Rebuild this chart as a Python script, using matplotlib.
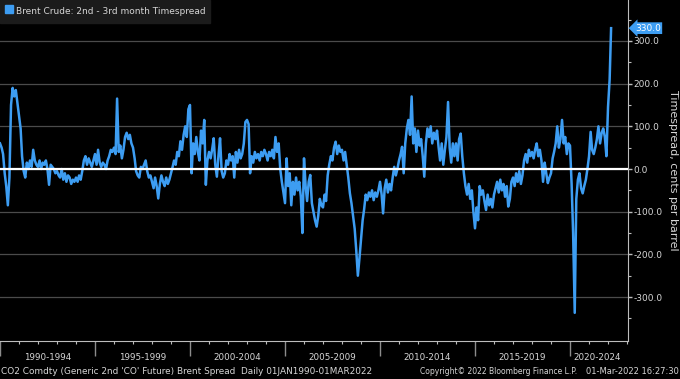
import pandas as pd
import matplotlib
matplotlib.use("Agg")
import matplotlib.pyplot as plt
import matplotlib.dates as mdates
import matplotlib.transforms as mtransforms
from matplotlib.lines import Line2D
from matplotlib.ticker import FuncFormatter, FixedLocator

# ---- monthly readings, cents per barrel (one row = Jan..Dec) ----
spread_1990_1994 = [
    60, 50, 35, -10, -40, -85, -20, 150, 190, 170, 185, 155,
    125, 95, 30, -5, -20, 15, 0, 20, 5, 45, 20, 10,
    5, 20, 0, 15, 10, 20, 0, -37, 10, 5, 0, -10,
    -5, -15, -20, 0, -25, -10, -30, -15, -20, -35, -25, -30,
    -20, -30, -15, -25, -5, 20, 30, 10, 25, 15, 5, 20,
]
spread_1995_1999 = [
    35, 10, 45, 15, 5, 15, 10, 0, 20, 30, 45, 40,
    50, 35, 165, 40, 55, 25, 45, 75, 85, 70, 80, 60,
    50, 25, -5, -15, -20, 5, 0, 10, 20, -5, -20, -15,
    -30, -45, -20, -40, -69, -35, -15, -30, -40, -20, -35, -25,
    -10, 5, 20, 10, 40, 30, 65, 45, 80, 100, 75, 140,
]
spread_2000_2004 = [
    150, -10, 60, 35, 75, 40, 20, 90, 60, 115, -37, 20,
    40, 25, 45, 72, 10, -18, 30, 72, -5, -20, -10, 20,
    10, 35, 20, 30, -20, 40, 15, 45, 25, 35, 60, 110,
    115, 105, -10, 30, 15, 40, 25, 35, 20, 40, 30, 45,
    35, 20, 40, 30, 45, 25, 75, 40, 60, 0, -30, -55,
]
spread_2005_2009 = [
    -80, 25, -40, -10, -85, -30, -60, -20, -50, -30, -65, -150,
    25, -40, -75, -30, -14, -80, -100, -120, -135, -110, -70, -85,
    -90, -60, -75, -15, 10, 30, 20, 50, 64, 35, 55, 40,
    45, 20, 40, 10, -20, -57, -80, -110, -140, -190, -250, -210,
    -165, -120, -95, -60, -73, -55, -65, -50, -73, -55, -65, -50,
]
spread_2010_2014 = [
    -30, -60, -104, -45, -25, -55, -35, -50, -20, 5, -15, 0,
    20, 35, 52, -10, 60, 95, 115, 80, 170, 60, 95, 40,
    90, 55, 70, 30, -18, 60, 95, 75, 100, 60, 85, 70,
    90, 50, 20, 60, 10, 45, 75, 157, 50, 15, 60, 30,
    60, 20, 70, 83, 30, -10, -40, -60, -35, -70, -50, -100,
]
spread_2015_2019 = [
    -139, -90, -120, -40, -60, -50, -75, -96, -60, -85, -70, -90,
    -60, -45, -30, -55, -25, -50, -35, -65, -40, -88, -70, -30,
    -20, -40, -10, -30, -5, -35, -15, 20, 35, 15, 45, 30,
    40, 25, 45, 60, 30, 45, 20, -30, 15, -10, -33, -20,
    -10, 25, 40, 60, 100, 50, 70, 115, 60, 75, 35, 60,
]
spread_2020_2022 = [
    55, -35, -150, -337, -70, -25, -10, -45, -57, -40, -25, 0,
    30, 87, 45, 35, 50, 70, 100, 60, 85, 95, 75, 30,
    145, 210, 330,
]

period_labels = ["1990-1994", "1995-1999", "2000-2004", "2005-2009",
                 "2010-2014", "2015-2019", "2020-2024"]
period_starts = [1990, 1995, 2000, 2005, 2010, 2015, 2020]
y_ticks = [-300, -200, -100, 0, 100, 200, 300]

spread = (spread_1990_1994 + spread_1995_1999 + spread_2000_2004 +
          spread_2005_2009 + spread_2010_2014 + spread_2015_2019 +
          spread_2020_2022)
dates = pd.date_range("1990-01-01", periods=len(spread), freq="MS")
last_value = spread[-1]

# ---- style ----
BLUE = "#3d9df2"
TXT = "#d6d6d6"
GRID = "#4b4b4b"
AXIS = "#bdbdbd"
plt.rcParams["font.family"] = ["DejaVu Sans"]

fig = plt.figure(figsize=(6.8, 3.79), dpi=100, facecolor="black")
ax = fig.add_axes([0.0, 1 - 341 / 379, 628 / 680, 341 / 379])
ax.set_facecolor("black")

ax.plot(dates, spread, color=BLUE, linewidth=1.8, zorder=3)
ax.axhline(0, color="white", linewidth=1.6, zorder=4)

ax.set_ylim(-403, 396)
ax.set_xlim(pd.Timestamp("1990-01-01"), pd.Timestamp("2023-01-20"))

# right axis
ax.yaxis.tick_right()
ax.yaxis.set_major_locator(FixedLocator(y_ticks))
ax.yaxis.set_minor_locator(FixedLocator([v + 50 for v in y_ticks[:-1]] +
                                        [-350, 350]))
ax.yaxis.set_major_formatter(FuncFormatter(lambda v, p: f"{v:.1f}"))
ax.tick_params(axis="y", which="major", colors=AXIS, labelcolor=TXT,
               labelsize=6.5, length=3, width=1, pad=1)
ax.tick_params(axis="y", which="minor", colors=AXIS, length=2, width=0.8)
ax.grid(axis="y", which="major", color=GRID, linewidth=0.9)
ax.set_ylabel("Timespread, cents per barrel", rotation=270, va="center",
              color=TXT, fontsize=8)
ax.yaxis.set_label_coords(673 / 628, 0.5)

# bottom axis
ax.xaxis.set_major_locator(mdates.YearLocator(5))
ax.xaxis.set_minor_locator(mdates.YearLocator(1))
ax.xaxis.set_major_formatter(FuncFormatter(lambda v, p: ""))
ax.tick_params(axis="x", which="major", colors="#8c8c8c", length=11,
               width=1)
ax.tick_params(axis="x", which="minor", colors=AXIS, length=2.5,
               width=0.8)

for s in ["left", "top"]:
    ax.spines[s].set_visible(False)
ax.spines["right"].set_color(AXIS)
ax.spines["bottom"].set_color(AXIS)

trans = mtransforms.blended_transform_factory(ax.transData, fig.transFigure)
for lab, yr in zip(period_labels, period_starts):
    if yr == 2020:
        ax.text(pd.Timestamp(f"{yr}-03-01"), 1 - 358 / 379, lab,
                transform=trans, ha="left", va="center", color=TXT,
                fontsize=6.3, clip_on=False)
    else:
        ax.text(pd.Timestamp(f"{yr + 2}-07-01"), 1 - 358 / 379, lab,
                transform=trans, ha="center", va="center", color=TXT,
                fontsize=6.3, clip_on=False)

# footer
fig.text(0.002, 1 - 372 / 379,
         "CO2 Comdty (Generic 2nd 'CO' Future) Brent Spread  Daily 01JAN1990-01MAR2022",
         ha="left", va="center", color=TXT, fontsize=6.4)
fig.text(577 / 680, 1 - 372 / 379, "Copyright\u00a9 2022 Bloomberg Finance L.P.",
         ha="right", va="center", color=TXT, fontsize=5.5)
fig.text(0.998, 1 - 372 / 379, "01-Mar-2022 16:27:30",
         ha="right", va="center", color=TXT, fontsize=6)

# legend
handle = Line2D([], [], marker="s", color=BLUE, linestyle="none",
                markersize=6)
leg = ax.legend(handles=[handle],
                labels=["Brent Crude: 2nd - 3rd month Timespread"],
                loc="upper left", bbox_to_anchor=(0, 1), borderaxespad=0,
                fontsize=6.5, handlelength=0.9, handleheight=2.0,
                handletextpad=0.35, borderpad=0.5, fancybox=False,
                framealpha=1, facecolor="#1b1b1b", edgecolor="#1b1b1b")
for t in leg.get_texts():
    t.set_color(TXT)

# last value tag
tag_trans = mtransforms.blended_transform_factory(ax.transAxes, ax.transData)
ax.annotate(f"{last_value:.1f}", xy=(1.0, last_value), xycoords=tag_trans,
            xytext=(5, 0), textcoords="offset points", ha="left",
            va="center", fontsize=6.5, color="white",
            bbox=dict(boxstyle="larrow,pad=0.15", fc=BLUE, ec="none"),
            annotation_clip=False)

fig.savefig("out.png", dpi=100, facecolor="black")
